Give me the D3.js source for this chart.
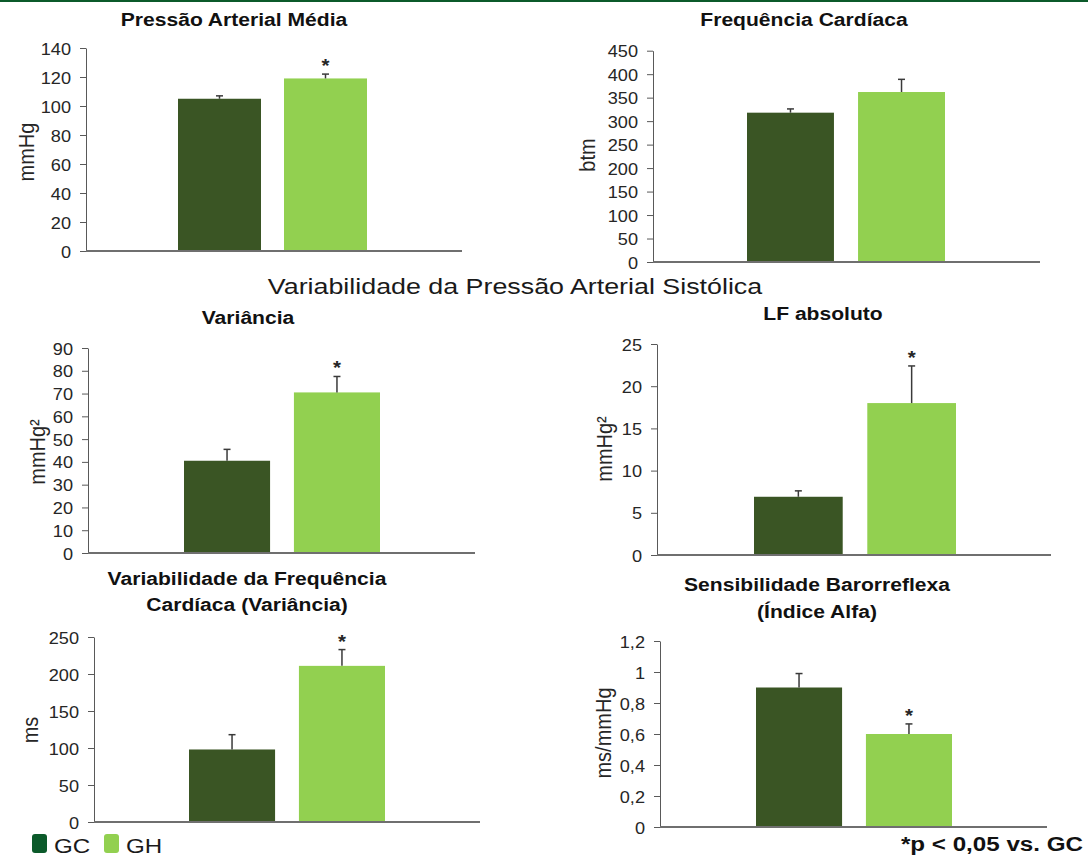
<!DOCTYPE html>
<html>
<head>
<meta charset="utf-8">
<script src="https://cdn.jsdelivr.net/npm/d3@7"></script>
<style>
  body { margin: 0; background: #fff; }
  svg { display: block; font-family: "Liberation Sans", Arial, sans-serif; }
</style>
</head>
<body>
<div id="chart"></div>
<script>
// Grupos
const groups = ["GC", "GH"];
const groupColors = ["#3a5524", "#92d050"];
const legendColors = ["#0b5a2a", "#92d050"];

// Valores (média) e erro padrão de cada painel
const pamValues = [105, 119];
const pamErrors = [2, 3];
const pamStars = [false, true];
const pamTicks = [0, 20, 40, 60, 80, 100, 120, 140];

const fcValues = [318, 362];
const fcErrors = [8, 27];
const fcStars = [false, false];
const fcTicks = [0, 50, 100, 150, 200, 250, 300, 350, 400, 450];

const varValues = [40.5, 70.5];
const varErrors = [5, 7];
const varStars = [false, true];
const varTicks = [0, 10, 20, 30, 40, 50, 60, 70, 80, 90];

const lfValues = [6.9, 18];
const lfErrors = [0.7, 4.4];
const lfStars = [false, true];
const lfTicks = [0, 5, 10, 15, 20, 25];

const vfcValues = [98, 211];
const vfcErrors = [20, 22];
const vfcStars = [false, true];
const vfcTicks = [0, 50, 100, 150, 200, 250];

const brsValues = [0.9, 0.6];
const brsErrors = [0.09, 0.065];
const brsStars = [false, true];
const brsTicks = [0, 0.2, 0.4, 0.6, 0.8, 1, 1.2];

// a imagem original está um pouco esticada na horizontal
const SX = 1.14;

const width = 1088, height = 857;

const svg = d3.select("#chart")
    .append("svg")
    .attr("width", width)
    .attr("height", height);

// linha verde no topo
svg.append("rect")
    .attr("x", 0).attr("y", 0)
    .attr("width", width).attr("height", 2)
    .attr("fill", "#0b5a2a");

function addText(parent, x, y, txt, opts = {}) {
    const sx = opts.sx || SX;
    const t = parent.append("text")
        .attr("transform", `translate(${x},${y}) scale(${sx},1)` + (opts.rotate ? " rotate(-90)" : ""))
        .attr("text-anchor", opts.anchor || "middle")
        .attr("font-size", opts.size || 16)
        .attr("font-weight", opts.bold ? "bold" : "normal")
        .attr("fill", opts.color || "#1a1a1a")
        .text(txt);
    return t;
}

const panels = [
    { title: ["Pressão Arterial Média"], titleX: 234, titleY: [26], unit: "mmHg", unitX: 34, unitY: 152,
      values: pamValues, errors: pamErrors, stars: pamStars, ticks: pamTicks,
      axisX: 86, yTop: 48, yBottom: 251, barStart: 178, barEnd: 367 },
    { title: ["Frequência Cardíaca"], titleX: 804, titleY: [26], unit: "btm", unitX: 595, unitY: 155,
      values: fcValues, errors: fcErrors, stars: fcStars, ticks: fcTicks,
      axisX: 653, yTop: 50.7, yBottom: 262, barStart: 747, barEnd: 945 },
    { title: ["Variância"], titleX: 248, titleY: [324], unit: "mmHg²", unitX: 45, unitY: 452,
      values: varValues, errors: varErrors, stars: varStars, ticks: varTicks,
      axisX: 88, yTop: 348, yBottom: 553, barStart: 184, barEnd: 380 },
    { title: ["LF absoluto"], titleX: 823, titleY: [320], unit: "mmHg²", unitX: 612, unitY: 449,
      values: lfValues, errors: lfErrors, stars: lfStars, ticks: lfTicks,
      axisX: 657, yTop: 344, yBottom: 555, barStart: 754, barEnd: 956 },
    { title: ["Variabilidade da Frequência", "Cardíaca (Variância)"], titleX: 247, titleY: [585, 611], unit: "ms", unitX: 38, unitY: 730,
      values: vfcValues, errors: vfcErrors, stars: vfcStars, ticks: vfcTicks,
      axisX: 94, yTop: 637, yBottom: 822, barStart: 189, barEnd: 385 },
    { title: ["Sensibilidade Barorreflexa", "(Índice Alfa)"], titleX: 817, titleY: [591, 618], unit: "ms/mmHg", unitX: 611, unitY: 733,
      values: brsValues, errors: brsErrors, stars: brsStars, ticks: brsTicks,
      axisX: 660, yTop: 641, yBottom: 827, barStart: 756, barEnd: 952,
      fmt: d => String(+d.toFixed(1)).replace(".", ",") }
];

panels.forEach(p => {
    const g = svg.append("g");
    const rows = groups.map((k, i) => ({ key: k, value: p.values[i], err: p.errors[i], star: p.stars[i], color: groupColors[i] }));

    const y = d3.scaleLinear()
        .domain([0, d3.max(p.ticks)])
        .range([p.yBottom, p.yTop]);

    const x = d3.scaleBand()
        .domain(groups)
        .range([p.barStart, p.barEnd])
        .paddingInner(0.217)
        .paddingOuter(0);

    // título
    p.title.forEach((line, i) => addText(g, p.titleX, p.titleY[i], line, { size: 18.5, bold: true, color: "#111" }));

    // eixo y
    const yAxis = g.append("g")
        .attr("transform", `translate(${p.axisX},0)`)
        .call(d3.axisLeft(y).tickValues(p.ticks).tickSize(6).tickSizeOuter(0)
            .tickFormat(p.fmt || (d => d)));
    yAxis.select(".domain").attr("stroke", "#595959").attr("stroke-width", 1);
    yAxis.selectAll(".tick line").attr("stroke", "#595959");
    yAxis.selectAll(".tick text")
        .attr("x", null)
        .attr("dy", null)
        .attr("transform", `translate(-15,6) scale(1.1,1)`)
        .attr("font-size", 16.5)
        .attr("font-family", "Liberation Sans, Arial, sans-serif")
        .attr("fill", "#262626");

    // unidade
    addText(g, p.unitX, p.unitY, p.unit, { size: 20, rotate: true, color: "#262626" });

    // barras
    g.selectAll("rect.bar")
        .data(rows)
        .enter()
        .append("rect")
        .attr("class", "bar")
        .attr("x", d => x(d.key))
        .attr("y", d => y(d.value))
        .attr("width", x.bandwidth())
        .attr("height", d => y(0) - y(d.value))
        .attr("fill", d => d.color);

    // barras de erro (só para cima)
    rows.forEach(d => {
        const cx = x(d.key) + x.bandwidth() / 2;
        g.append("line")
            .attr("x1", cx).attr("x2", cx)
            .attr("y1", y(d.value)).attr("y2", y(d.value + d.err))
            .attr("stroke", "#3a3a3a").attr("stroke-width", 1.5);
        g.append("line")
            .attr("x1", cx - 3.5).attr("x2", cx + 3.5)
            .attr("y1", y(d.value + d.err)).attr("y2", y(d.value + d.err))
            .attr("stroke", "#3a3a3a").attr("stroke-width", 1.5);
        if (d.star) {
            addText(g, cx, y(d.value + d.err) - 2, "*", { size: 18, bold: true, color: "#262626" });
        }
    });

    // eixo x
    g.append("line")
        .attr("x1", p.axisX).attr("x2", p.barEnd + 95)
        .attr("y1", p.yBottom).attr("y2", p.yBottom)
        .attr("stroke", "#6f6f6f").attr("stroke-width", 2);
});

// subtítulo central
addText(svg, 515, 294, "Variabilidade da Pressão Arterial Sistólica", { size: 22, sx: 1.22, color: "#1a1a1a" });

// legenda
const legendX = [32, 104];
groups.forEach((k, i) => {
    svg.append("rect")
        .attr("x", legendX[i]).attr("y", 834)
        .attr("width", 15).attr("height", 19)
        .attr("rx", 3)
        .attr("fill", legendColors[i]);
    addText(svg, legendX[i] + 22, 853, k, { size: 21, sx: 1.15, anchor: "start", color: "#1a1a1a" });
});

// nota
addText(svg, 1083, 851, "*p < 0,05 vs. GC", { size: 20.5, sx: 1.18, bold: true, anchor: "end", color: "#111" });
</script>
</body>
</html>
